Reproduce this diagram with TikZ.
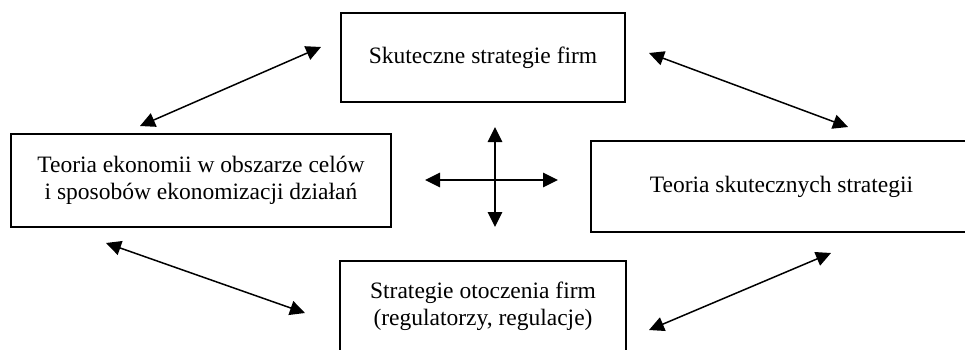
\documentclass[tikz,border=0pt]{standalone}
\usepackage{fontspec}
\setmainfont{Liberation Serif}
\usetikzlibrary{arrows.meta}
\tikzset{
  box/.style={draw, line width=1.6pt, inner sep=0pt, align=center,
    font=\fontsize{23.5}{26.5}\selectfont},
  link/.style={{Triangle[length=15pt,width=14.5pt]}-{Triangle[length=15pt,width=14.5pt]}, line width=1.5pt},
}
\begin{document}
\begin{tikzpicture}[x=1pt,y=-1pt]
  \clip (0,0) rectangle (965,349);

  % the four boxes
  \node[box, minimum width=284pt, minimum height=89pt] (firmy) at (483,57.5) {Skuteczne strategie firm};
  \node[box, minimum width=380pt, minimum height=93pt] (ekonomia) at (201,180.5) {Teoria ekonomii w obszarze celów\\i sposobów ekonomizacji działań};
  \node[box, minimum width=381pt, minimum height=91pt] (teoria) at (781.5,186.5) {Teoria skutecznych strategii};
  \node[box, minimum width=286pt, minimum height=91pt] (otoczenie) at (483,306.5) {Strategie otoczenia firm\\(regulatorzy, regulacje)};

  % ends of the arrows
  \coordinate (ekoN) at (140,126);  \coordinate (firW) at (321,47);
  \coordinate (firE) at (649,53);   \coordinate (teoN) at (848,127);
  \coordinate (ekoS) at (106,243);  \coordinate (otoW) at (305,313);
  \coordinate (otoE) at (649,330);  \coordinate (teoS) at (831,253);

  \draw[link] (ekoN) -- (firW);
  \draw[link] (firE) -- (teoN);
  \draw[link] (ekoS) -- (otoW);
  \draw[link] (otoE) -- (teoS);

  % cross in the middle
  \coordinate (krzN) at (495,127);  \coordinate (krzS) at (495,227);
  \coordinate (krzW) at (425,180);  \coordinate (krzE) at (558,180);
  \draw[link] (krzW) -- (krzE);
  \draw[link] (krzS) -- (krzN);
\end{tikzpicture}
\end{document}
